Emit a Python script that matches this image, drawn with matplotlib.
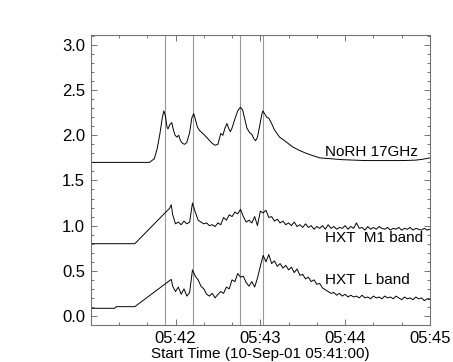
import numpy as np
import matplotlib
matplotlib.use('Agg')
import matplotlib.pyplot as plt
from matplotlib.ticker import MultipleLocator

plt.rcParams['font.family'] = ['Liberation Sans', 'DejaVu Sans']

# seconds after 05:41:00
norh_t = [0, 41.6, 45, 47, 49, 50.5, 51.7, 52.8, 54, 54.7, 56, 57.4, 58.5, 59.7, 61, 62.3,
          63.5, 65, 66.5, 68, 70, 71.5, 72.9, 74, 75.5, 77.2, 80, 83, 86, 88, 90, 91, 92,
          93.5, 95, 96.4, 97.5, 98.8, 100, 102, 104, 105.9, 107.5, 109, 110.5, 112.4, 114,
          115.5, 116.7, 118, 119.5, 121, 121.8, 123, 124.5, 126, 128, 130, 133.6, 138, 143,
          148, 152.5, 158, 162, 170, 178, 195, 210, 220, 230, 235, 240]
norh_v = [1.70, 1.70, 1.74, 1.85, 2.02, 2.18, 2.27, 2.22, 2.09, 2.07, 2.12, 2.14, 2.06, 2.00,
          1.98, 2.00, 1.94, 1.91, 1.90, 1.92, 2.03, 2.19, 2.24, 2.18, 2.09, 2.05, 2.01, 1.96,
          1.91, 1.89, 1.90, 1.96, 2.02, 2.00, 2.08, 2.13, 2.08, 2.04, 2.08, 2.18, 2.27, 2.31,
          2.28, 2.18, 2.08, 2.03, 2.01, 1.96, 1.94, 1.98, 2.10, 2.23, 2.27, 2.24, 2.20, 2.19,
          2.13, 2.06, 1.98, 1.93, 1.87, 1.83, 1.80, 1.77, 1.75, 1.74, 1.73, 1.72, 1.72, 1.72,
          1.725, 1.735, 1.75]

# HXT data: flat pre-flare segment, then a 2-s grid from 58 s
hxt_t = [0, 17, 18, 31.2, 55.7, 57] + list(np.arange(58, 241, 2))
m1_v = [0.80, 0.80, 0.80, 0.80, 1.19, 1.23,
        1.12, 1.02, 1.04, 1.01, 1.05, 1.02, 1.04, 1.25, 1.15, 1.06,
        1.04, 1.02, 1.03, 1.00, 1.01, 0.99, 1.03, 1.01, 1.09, 1.06,
        1.12, 1.10, 1.15, 1.13, 1.18, 1.10, 1.04, 1.06, 1.03, 1.10,
        1.00, 1.16, 1.14, 1.17, 1.09, 1.10, 1.05, 1.07, 1.03, 1.05,
        1.01, 1.03, 1.00, 1.04, 0.99, 1.01, 0.98, 1.02, 0.98, 1.00,
        0.96, 0.99, 0.97, 1.00, 0.96, 1.01, 0.97, 0.99, 0.96, 0.98,
        0.97, 1.00, 0.96, 0.99, 0.97, 1.03, 0.97, 0.98, 0.95, 0.99,
        0.96, 0.98, 0.96, 0.99, 0.97, 0.96, 0.98, 0.95, 0.97, 0.96,
        0.98, 0.95, 0.97, 0.96, 0.98, 0.95, 0.97, 0.96, 0.95, 0.97,
        0.95, 0.96]
l_v = [0.085, 0.085, 0.103, 0.103, 0.39, 0.405,
       0.33, 0.27, 0.32, 0.24, 0.30, 0.22, 0.26, 0.51, 0.44, 0.40,
       0.33, 0.30, 0.24, 0.22, 0.25, 0.20, 0.24, 0.27, 0.25, 0.32,
       0.30, 0.40, 0.38, 0.47, 0.43, 0.44, 0.37, 0.33, 0.38, 0.32,
       0.42, 0.55, 0.67, 0.60, 0.68, 0.58, 0.61, 0.55, 0.58, 0.53,
       0.56, 0.51, 0.54, 0.48, 0.52, 0.45, 0.46, 0.41, 0.43, 0.38,
       0.40, 0.35, 0.36, 0.31, 0.29, 0.27, 0.25, 0.26, 0.23, 0.25,
       0.22, 0.24, 0.21, 0.23, 0.21, 0.22, 0.20, 0.23, 0.20, 0.21,
       0.19, 0.22, 0.20, 0.21, 0.19, 0.22, 0.20, 0.21, 0.19, 0.22,
       0.20, 0.18, 0.21, 0.19, 0.20, 0.18, 0.21, 0.19, 0.20, 0.17,
       0.19, 0.18]

peak_times = [52.7, 72.4, 105.9, 121.8]

labels = ['NoRH 17GHz', 'HXT  M1 band', 'HXT  L band']
label_y = [1.771, 0.822, 0.354]

xtick_pos = [0, 60, 120, 180, 240]
xtick_lab = ['', '05:42', '05:43', '05:44', '05:45']

fig = plt.figure(figsize=(4.53, 3.62), dpi=100)
ax = fig.add_axes([0.2002, 0.1022, 0.7489, 0.8011])

for t in peak_times:
    ax.axvline(t, color='0.6', lw=0.8)

ax.plot(norh_t, norh_v, color='k', lw=0.7)
ax.plot(hxt_t, m1_v, color='k', lw=0.7)
ax.plot(hxt_t, l_v, color='k', lw=0.7)

for lab, y in zip(labels, label_y):
    ax.text(166, y, lab, fontsize=11, va='baseline', ha='left')

ax.set_xlim(0, 240)
ax.set_ylim(-0.1, 3.11)
ax.set_xticks(xtick_pos)
ax.set_xticklabels(xtick_lab)
ax.xaxis.set_minor_locator(MultipleLocator(20))
ax.yaxis.set_major_locator(MultipleLocator(0.5))
ax.yaxis.set_minor_locator(MultipleLocator(0.1))
ax.yaxis.set_major_formatter(matplotlib.ticker.FormatStrFormatter('%.1f'))

ax.tick_params(which='both', direction='in', top=True, right=True, color='0.45',
               labelsize=12, pad=4)
ax.tick_params(which='major', length=4.2, width=0.7)
ax.tick_params(which='minor', length=2.2, width=0.7)
for s in ax.spines.values():
    s.set_color('0.45')
    s.set_linewidth(0.8)

ax.set_xlabel('Start Time (10-Sep-01 05:41:00)', fontsize=11, labelpad=1)

fig.savefig('out.png', dpi=100)
